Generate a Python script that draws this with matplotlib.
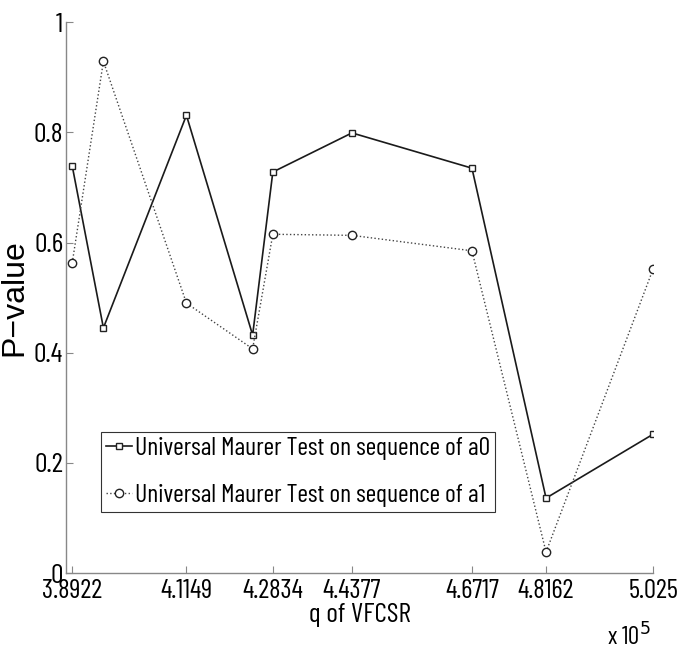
import matplotlib
matplotlib.use("Agg")
import matplotlib.pyplot as plt
from matplotlib import font_manager

names = {f.name for f in font_manager.fontManager.ttflist}
fam = ['DejaVu Sans']
for cand in ['Barlow Condensed', 'Roboto Condensed', 'Archivo Narrow']:
    if cand in names:
        fam = [cand, 'DejaVu Sans']
        break
plt.rcParams['font.family'] = fam
ylab_fam = ['Liberation Sans', 'DejaVu Sans']

# data (x in units of 1e5)
x_vals = [3.8922, 3.953, 4.1149, 4.244, 4.2834, 4.4377, 4.6717, 4.8162, 5.025]
a0_vals = [0.739, 0.445, 0.831, 0.432, 0.728, 0.799, 0.735, 0.136, 0.252]
a1_vals = [0.563, 0.929, 0.490, 0.407, 0.615, 0.613, 0.585, 0.038, 0.552]
x_ticks = [3.8922, 4.1149, 4.2834, 4.4377, 4.6717, 4.8162, 5.025]
x_tick_labels = ['3.8922', '4.1149', '4.2834', '4.4377', '4.6717', '4.8162', '5.025']
y_ticks = [0, 0.2, 0.4, 0.6, 0.8, 1]
y_tick_labels = ['0', '0.2', '0.4', '0.6', '0.8', '1']
label_a0 = 'Universal Maurer Test on sequence of a0'
label_a1 = 'Universal Maurer Test on sequence of a1'

fig = plt.figure(figsize=(6.78, 6.53), dpi=100)
ax = fig.add_axes([0.0973, 0.1225, 0.866, 0.8435])

ax.plot(x_vals, a0_vals, color='#1a1a1a', linestyle='-', linewidth=1.2,
        marker='s', markersize=5, markerfacecolor='white', markeredgecolor='#222222',
        markeredgewidth=1.0, label=label_a0)
ax.plot(x_vals, a1_vals, color='#444444', linestyle=':', linewidth=1.0,
        marker='o', markersize=6, markerfacecolor='white', markeredgecolor='#222222',
        markeredgewidth=1.0, label=label_a1)

ax.set_xlim(3.880, 5.025)
ax.set_ylim(0, 1)
ax.set_xticks(x_ticks)
ax.set_xticklabels(x_tick_labels, fontsize=19.5)
ax.set_yticks(y_ticks)
ax.set_yticklabels(y_tick_labels, fontsize=20)
ax.tick_params(direction='in', length=5, width=0.8, color='#888888')
ax.tick_params(axis='x', pad=4)
ax.tick_params(axis='y', pad=2)
for s in ['top', 'right']:
    ax.spines[s].set_visible(False)
for s in ['left', 'bottom']:
    ax.spines[s].set_color('#888888')
    ax.spines[s].set_linewidth(1.0)

ax.set_ylabel('P\u2212value', fontsize=23, labelpad=3, family=ylab_fam)
ax.set_xlabel('q of VFCSR', fontsize=20, labelpad=0)
fig.text(0.895, 0.004, 'x 10$^5$', fontsize=18, ha='left', va='bottom')

leg = ax.legend(loc='lower left', bbox_to_anchor=(0.06, 0.11), fontsize=18.5,
                frameon=True, fancybox=False, edgecolor='black', borderpad=0.2,
                handlelength=1.0, handletextpad=0.1, labelspacing=0.95, borderaxespad=0)
leg.get_frame().set_linewidth(0.8)

fig.savefig('out.png', dpi=100, facecolor='white')
